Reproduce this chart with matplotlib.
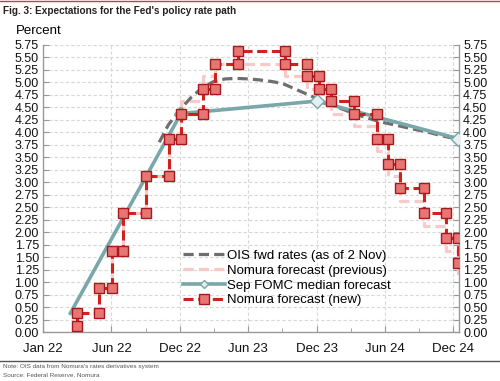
import matplotlib
matplotlib.use("Agg")
import matplotlib.pyplot as plt
from matplotlib.lines import Line2D
from matplotlib.ticker import MultipleLocator
import numpy as np

plt.rcParams['font.family'] = ['Liberation Sans', 'DejaVu Sans']

# x axis = months since the "Jan 22" tick
tick_pos = [0, 6, 12, 18, 24, 30, 36]
tick_labels = ['Jan 22', 'Jun 22', 'Dec 22', 'Jun 23', 'Dec 23', 'Jun 24', 'Dec 24']

# policy meetings where the Nomura path changes
meet_x = [2.96, 4.94, 6.03, 7.04, 9.0, 11.08, 12.1, 14.06, 15.09, 17.08, 21.2,
          23.2, 24.2, 25.3, 27.3, 29.3, 30.3, 31.3, 33.4, 35.4, 36.4]
new_levels = [0.125, 0.375, 0.875, 1.625, 2.375, 3.125, 3.875, 4.375, 4.875, 5.375, 5.625,
              5.375, 5.125, 4.875, 4.625, 4.375, 3.875, 3.375, 2.875, 2.375, 1.875, 1.375]
prev_levels = [0.125, 0.375, 0.875, 1.625, 2.375, 3.125, 3.875, 4.625, 5.125, 5.375, 5.375,
               5.125, 4.875, 4.625, 4.375, 4.125, 3.625, 3.125, 2.625, 2.125, 1.625, 1.125]

ois_x = [10.2, 11, 12, 13, 14, 15, 16, 17, 18, 19, 20, 21, 22, 23, 24, 25, 26, 27,
         28, 29, 30, 31, 32, 33, 34, 35, 35.8]
ois_y = [3.80, 4.15, 4.45, 4.70, 4.90, 5.02, 5.07, 5.08, 5.07, 5.05, 5.02, 4.98, 4.88,
         4.78, 4.68, 4.58, 4.49, 4.40, 4.32, 4.25, 4.19, 4.14, 4.09, 4.04, 3.99, 3.93, 3.89]

fomc_x = [2.4, 12.1, 24.0, 36.4]
fomc_y = [0.375, 4.375, 4.625, 3.875]


def step_path(xs, levels):
    px, py = [], []
    for i, x in enumerate(xs):
        px += [x, x]
        py += [levels[i], levels[i + 1]]
    return px, py


RED = '#d3201f'
PINK = '#f8c9c9'
GREY = '#6e6e6e'
TEAL = '#79a7aa'

fig = plt.figure(figsize=(5, 3.81), dpi=100)
ax = fig.add_axes([0.086, 0.1286, 0.832, 0.7534])

px, py = step_path(meet_x, prev_levels)
ax.plot(px, py, color=PINK, lw=2.3, dashes=(3.2, 1.6), zorder=2)
ax.plot(ois_x, ois_y, color=GREY, lw=2.3, dashes=(3.2, 1.6), zorder=3)
ax.plot(fomc_x, fomc_y, color=TEAL, lw=2.6, marker='D', ms=7.5, markevery=[1, 2, 3],
        mfc='#e6f0f0', mec=TEAL, mew=1, zorder=4)
nx, ny = step_path(meet_x, new_levels)
ax.plot(nx, ny, color=RED, lw=2.2, dashes=(3.3, 1.5), marker='s', ms=7.5,
        mfc='#e87474', mec='#a8191b', mew=1, zorder=5)

ax.set_xlim(0, 36.5)
ax.set_ylim(0, 5.75)
ax.set_xticks(tick_pos)
ax.set_xticklabels(tick_labels, fontsize=9.5)
ax.xaxis.set_minor_locator(MultipleLocator(3))
yt = np.arange(0, 5.76, 0.25)
ax.set_yticks(yt)
ax.set_yticklabels(['%.2f' % v for v in yt], fontsize=9)
ax.tick_params(axis='both', which='both', direction='in', color='#999999', length=4,
               pad=3, labelcolor='#111111')
ax.tick_params(axis='x', pad=8)
ax.tick_params(axis='y', right=True, labelright=True)
ax.tick_params(axis='x', which='minor', length=3)
ax.grid(True, color='#d8d8d8', lw=0.8, ls=(0, (3, 2)))
ax.spines['top'].set_visible(False)
for s in ['left', 'right', 'bottom']:
    ax.spines[s].set_color('#999999')
    ax.spines[s].set_linewidth(1)

handles = [
    Line2D([], [], color=GREY, lw=2.3, dashes=(3.2, 1.6)),
    Line2D([], [], color=PINK, lw=2.3, dashes=(3.2, 1.6)),
    Line2D([], [], color=TEAL, lw=2.6, marker='D', ms=4, mfc='#e6f0f0', mec=TEAL, mew=1),
    Line2D([], [], color=RED, lw=2.2, dashes=(3.3, 1.5), marker='s', ms=6.5,
           mfc='#e87474', mec='#a8191b', mew=1),
]
labels = ['OIS fwd rates (as of 2 Nov)', 'Nomura forecast (previous)',
          'Sep FOMC median forecast', 'Nomura forecast (new)']
fig.legend(handles, labels, loc='upper left', bbox_to_anchor=(0.365, 0.345),
           frameon=False, fontsize=9.5, handlelength=3.2, handletextpad=0.2,
           labelspacing=0.2, borderpad=0, borderaxespad=0)

fig.text(0.006, 0.971, "Fig. 3: Expectations for the Fed's policy rate path",
         fontsize=7.2, fontweight='bold', va='center', ha='left', color='#222222')
fig.text(0.032, 0.919, 'Percent', fontsize=9.5, va='center', ha='left')
fig.add_artist(Line2D([0, 1], [0.998, 0.998], color='#d9343a', lw=1))
fig.add_artist(Line2D([0, 1], [0.0525, 0.0525], color='#555555', lw=1))
fig.text(0.006, 0.037, "Note: OIS data from Nomura's rates derivatives system",
         fontsize=4.6, va='center', ha='left', color='#555555')
fig.text(0.006, 0.017, 'Source: Federal Reserve, Nomura',
         fontsize=4.6, va='center', ha='left', color='#555555')

fig.savefig('out.png', dpi=100)
